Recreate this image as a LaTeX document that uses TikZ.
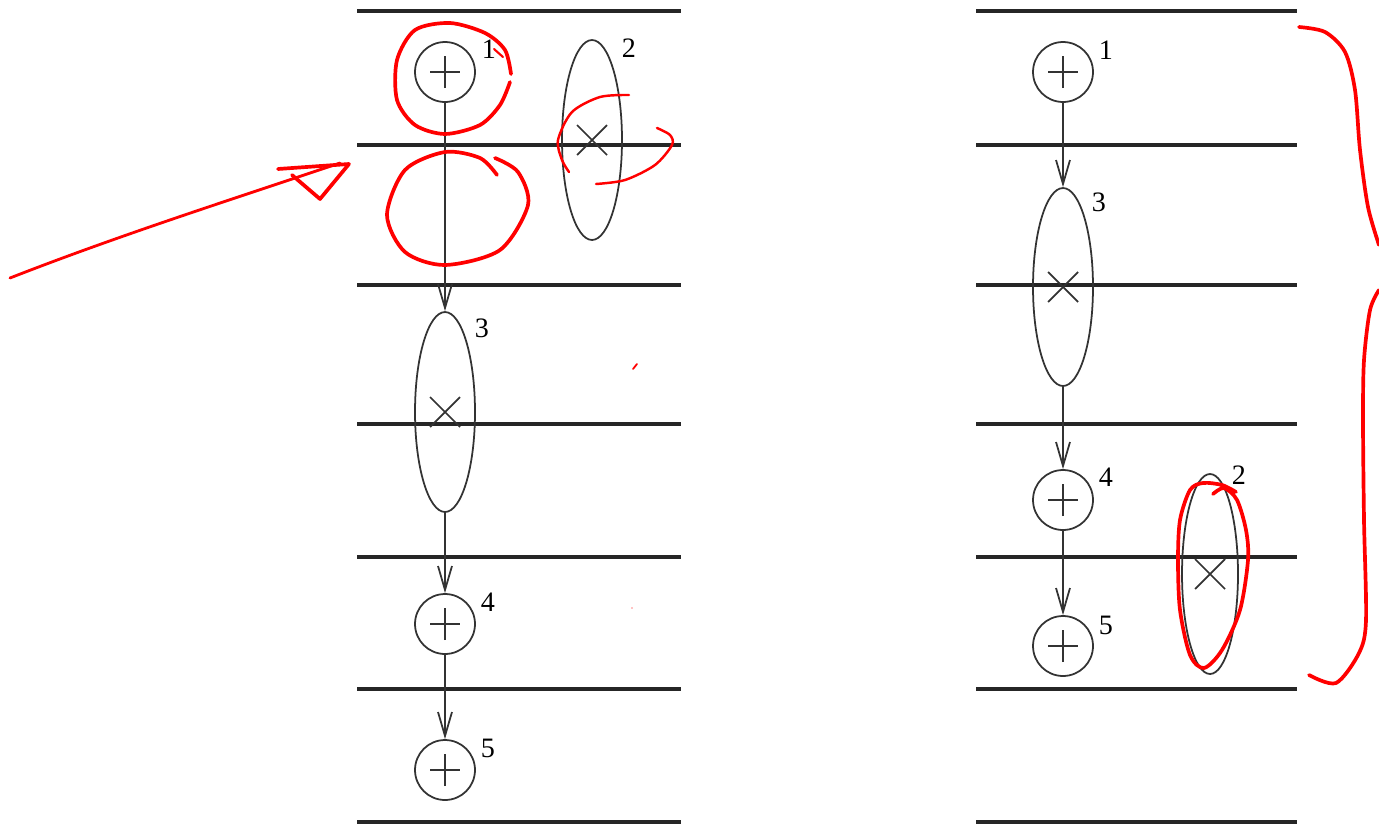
\documentclass[tikz,border=0pt]{standalone}
\usepackage{fontspec}
\setmainfont{Liberation Serif}
\usetikzlibrary{arrows.meta,shapes.geometric}

\begin{document}
\begin{tikzpicture}[x=0.02cm,y=-0.02cm,
  every node/.style={font=\fontsize{16}{19}\selectfont},
  rule/.style={line width=2.2pt,black!85},
  plusnode/.style={circle,draw=black!80,line width=1pt,minimum size=1.2cm,inner sep=0pt,
    path picture={\draw[line width=1pt,black!80]
      ([xshift=-0.3cm]path picture bounding box.center) -- ([xshift=0.3cm]path picture bounding box.center)
      ([yshift=-0.32cm]path picture bounding box.center) -- ([yshift=0.32cm]path picture bounding box.center);}},
  timesnode/.style={ellipse,draw=black!80,line width=1pt,minimum width=1.2cm,minimum height=4cm,inner sep=0pt,
    path picture={\draw[line width=1pt,black!80]
      ([shift={(-0.3cm,-0.3cm)}]path picture bounding box.center) -- ([shift={(0.3cm,0.3cm)}]path picture bounding box.center)
      ([shift={(-0.3cm,0.3cm)}]path picture bounding box.center) -- ([shift={(0.3cm,-0.3cm)}]path picture bounding box.center);}},
  num/.style={inner sep=0pt},
  flow/.style={-{Straight Barb[length=0.48cm,width=0.28cm]},line width=1pt,black!80},
  pen/.style={red,line width=2.1pt,line cap=round,line join=round}]
\useasboundingbox (0,0) rectangle (1379,825);

% rules
\foreach \y in {11,145,285,424,557,689,822} {
  \draw[rule] (357,\y) -- (681,\y);
  \draw[rule] (976,\y) -- (1297,\y);
}

% left column
\node[plusnode] (l1) at (445,72) {};
\node[timesnode] (l2) at (592,140) {};
\node[timesnode] (l3) at (445,412) {};
\node[plusnode] (l4) at (445,624) {};
\node[plusnode] (l5) at (445,770) {};
\node[num] (tl1) at (489,49) {1};
\node[num] (tl2) at (629,48) {2};
\node[num] (tl3) at (482,328) {3};
\node[num] (tl4) at (488,602) {4};
\node[num] (tl5) at (488,748) {5};
\draw[flow] (l1) -- (l3);
\draw[flow] (l3) -- (l4);
\draw[flow] (l4) -- (l5);

% right column
\node[plusnode] (r1) at (1063,72) {};
\node[timesnode,minimum height=3.96cm] (r3) at (1063,287) {};
\node[plusnode] (r4) at (1063,500) {};
\node[plusnode] (r5) at (1063,646) {};
\node[timesnode,minimum width=1.12cm] (r2) at (1210,574) {};
\node[num] (tr1) at (1106,50) {1};
\node[num] (tr3) at (1099,202) {3};
\node[num] (tr4) at (1106,477) {4};
\node[num] (tr5) at (1106,625) {5};
\node[num] (tr2) at (1239,475) {2};
\draw[flow] (r1) -- (r3);
\draw[flow] (r3) -- (r4);
\draw[flow] (r4) -- (r5);

% red marks
\draw[pen] plot[smooth] coordinates {(511,74) (505,50) (485,33) (450,23) (415,30) (397,60) (397,100) (415,125) (445,134) (480,125) (500,105) (510,82)};
\draw[pen,line width=1.2pt] (494,49) -- (503,57);
\draw[pen] plot[smooth] coordinates {(497,175) (480,158) (445,152) (405,170) (387,215) (405,252) (445,265) (500,250) (528,205) (518,172) (495,158)};
\draw[pen,line width=1.4pt] plot[smooth] coordinates {(629,95) (600,97) (572,112) (558,140) (562,160) (569,172)};
\draw[pen,line width=1.4pt] plot[smooth] coordinates {(657,128) (670,135) (672,145) (655,165) (625,180) (596,184)};
\draw[pen,line width=1.6pt] (10,278) .. controls (120,235) and (230,200) .. (340,163);
\draw[pen] (278,169) -- (349,164) -- (320,199) -- (292,175);
\draw[pen,line width=1pt] (633,369) -- (637,364);
\fill[red] (632,608) circle (0.6);
\draw[pen] plot[smooth] coordinates {(1299,27) (1325,32) (1345,52) (1355,90) (1360,150) (1368,207) (1379,245)};
\draw[pen] plot[smooth] coordinates {(1379,290) (1370,310) (1364,360) (1363,420) (1364,520) (1366,620) (1359,653) (1336,683) (1309,675)};
\draw[pen] plot[smooth] coordinates {(1213,494) (1224,488) (1237,500) (1246,530) (1248,560) (1240,610) (1222,650) (1204,668) (1190,655) (1180,610) (1178,560) (1180,520) (1190,490) (1203,483) (1222,485) (1236,492)};
\end{tikzpicture}
\end{document}
